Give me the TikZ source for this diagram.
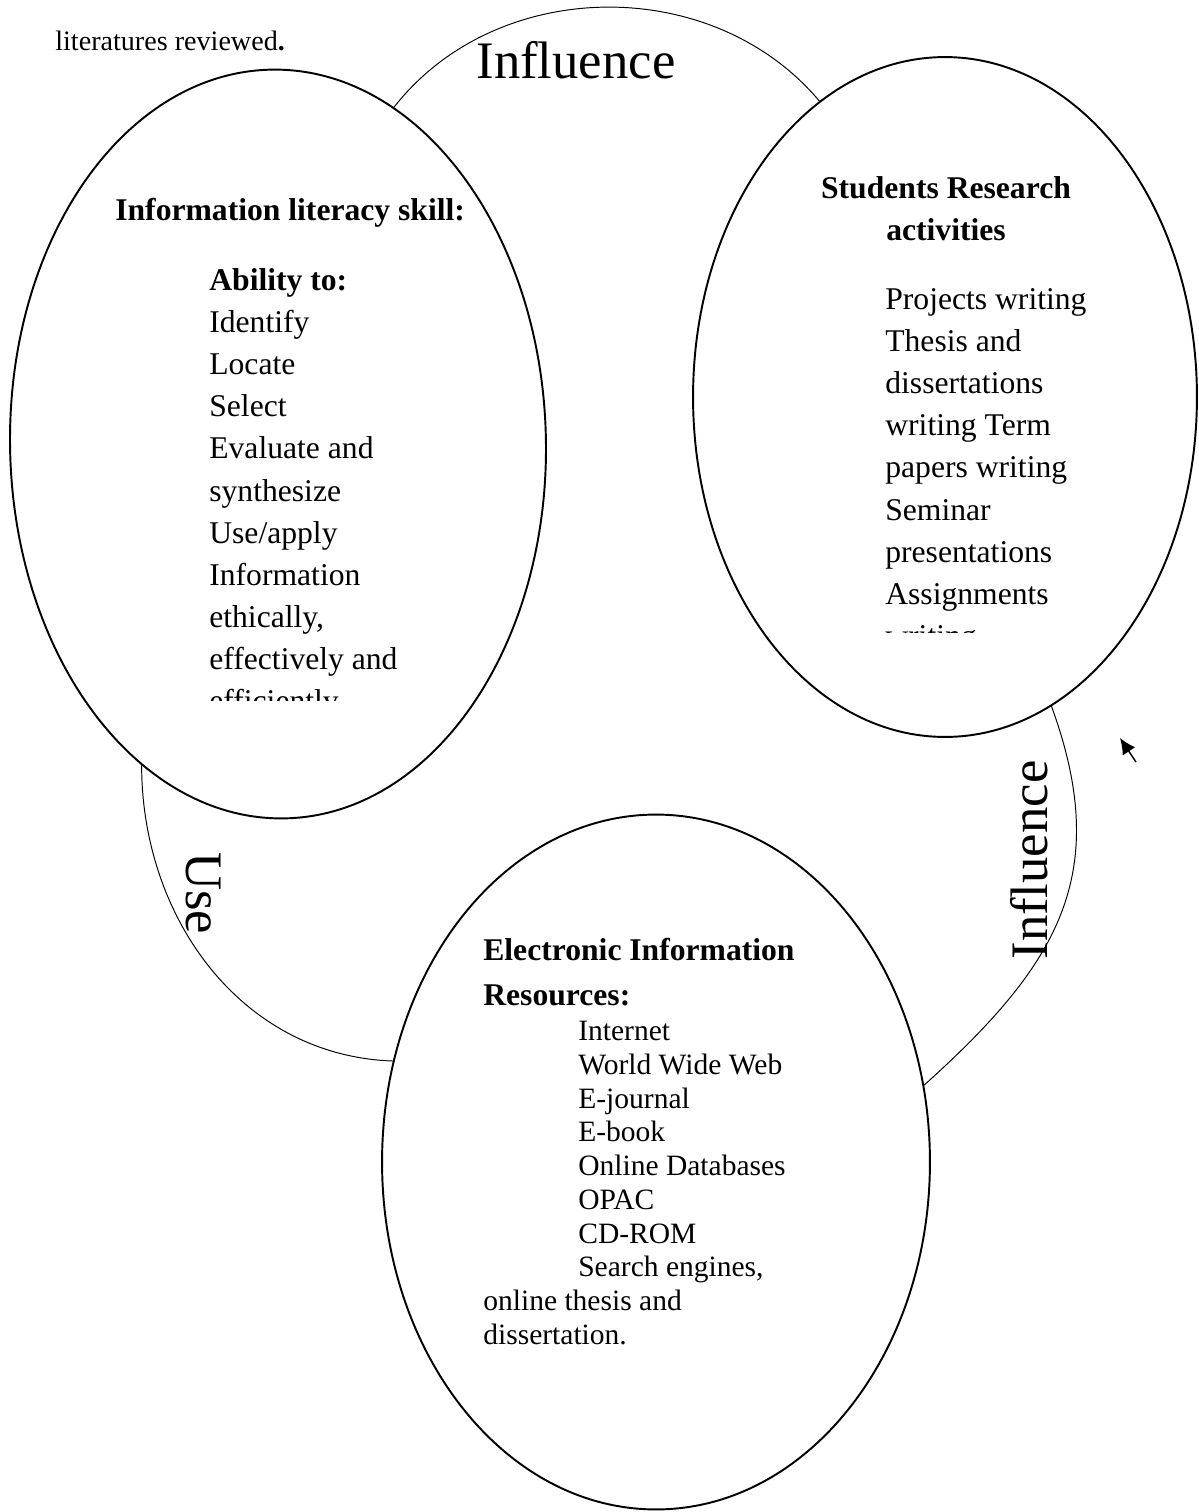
\documentclass[tikz,border=0pt]{standalone}
\usepackage{fontspec}
\setmainfont{Liberation Serif}
\usetikzlibrary{shapes.geometric,arrows.meta}

\begin{document}
\begin{tikzpicture}[x=0.02cm,y=-0.02cm,
		oval/.style={ellipse,draw,line width=1.1pt,inner sep=0pt},
		link/.style={line width=0.55pt},
		big label/.style={font=\fontsize{30}{36}\selectfont,inner sep=0pt},
		body text/.style={font=\fontsize{18}{24}\selectfont,align=left,inner sep=0pt}]
		
		\useasboundingbox (0,0) rectangle (1198,1512);
		
		\node[big label,font=\fontsize{16}{20}\selectfont,anchor=base west] (intro) at (55,50) {literatures reviewed\textbf{.}};
		
		% the three ovals
		\node[oval,minimum width=10.72cm,minimum height=14.98cm,rotate=1] (lit) at (278,444) {};
		\node[oval,minimum width=10.08cm,minimum height=13.6cm] (res) at (945,397) {};
		\node[oval,minimum width=10.96cm,minimum height=13.9cm] (eir) at (656,1162) {};
		
		% links between them
		\draw[link] (lit.70) to[out=52,in=130] (res.113.5);
		\draw[link] (lit.246) to[out=-90,in=178] (eir.159.5);
		\draw[link] (res.-71) to[out=-70,in=42,looseness=1.15] (eir.16.8);
		
		\node[big label,anchor=base] (inftop) at (576,78) {Influence};
		\node[big label,rotate=-90] (use) at (203,893) {Use};
		\node[big label,rotate=90] (infright) at (1029,860) {Influence};
		
		% texts inside the ovals
		\node[body text,font=\fontsize{18}{24}\selectfont\bfseries,anchor=base west] (lithead) at (115,220) {Information literacy skill:};
		\begin{scope}
		\clip (0,0) rectangle (1198,700);
		\node[body text,anchor=north west] (litlist) at (209,268) {\textbf{Ability to:}\\Identify\\Locate\\Select\\Evaluate and\\synthesize\\Use/apply\\Information\\ethically,\\effectively and\\efficiently.};
		\end{scope}
		
		\node[body text,font=\fontsize{18}{24}\selectfont\bfseries,align=center,anchor=north] (reshead) at (946,176) {Students Research\\activities};
		\begin{scope}
		\clip (0,0) rectangle (1198,632);
		\node[body text,anchor=north west] (reslist) at (885,288) {Projects writing\\Thesis and\\dissertations\\writing Term\\papers writing\\Seminar\\presentations\\Assignments\\writing};
		\end{scope}
		
		\node[body text,font=\fontsize{18}{25.5}\selectfont\bfseries,anchor=north west] (eirhead) at (483,938) {Electronic Information\\Resources:};
		\node[body text,font=\fontsize{16.8}{19.2}\selectfont,anchor=north west] (eirlist) at (483,1021) {\hspace*{1.9cm}Internet\\\hspace*{1.9cm}World Wide Web\\\hspace*{1.9cm}E-journal\\\hspace*{1.9cm}E-book\\\hspace*{1.9cm}Online Databases\\\hspace*{1.9cm}OPAC\\\hspace*{1.9cm}CD-ROM\\\hspace*{1.9cm}Search engines,\\online thesis and\\dissertation.};
		
		% stray pointer
		\coordinate (ptail) at (1136,762);
		\coordinate (ptip) at (1120,738);
		\draw[line width=0.8pt,-{Latex[length=0.32cm,width=0.3cm]}] (ptail) -- (ptip);
\end{tikzpicture}
\end{document}
